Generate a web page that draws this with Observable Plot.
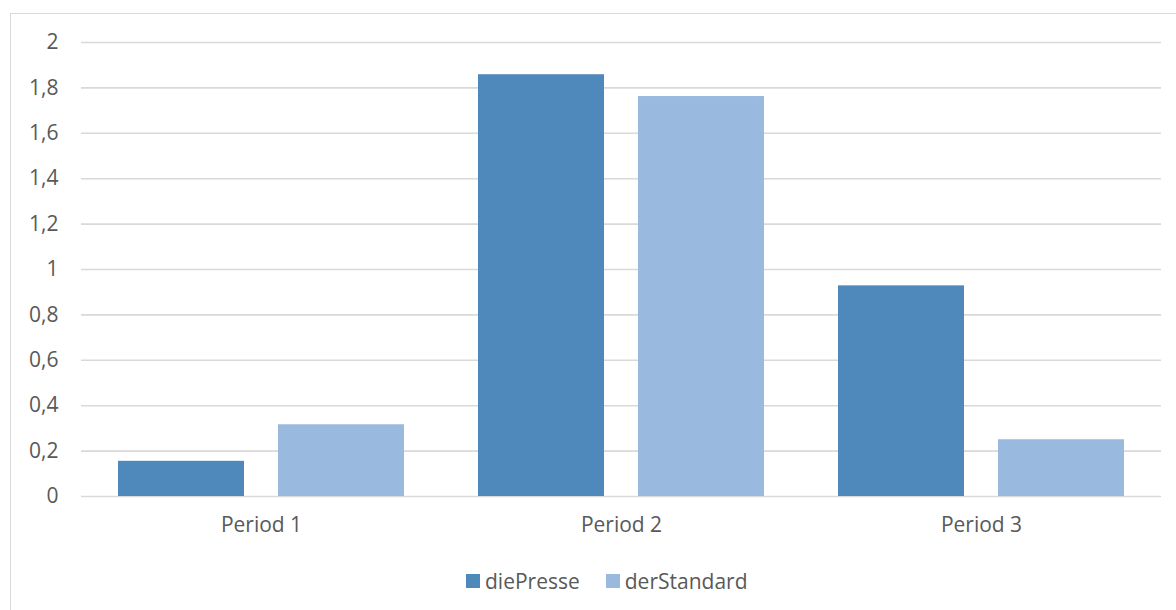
<!DOCTYPE html>
<html>
<head>
<meta charset="utf-8">
<script src="https://cdn.jsdelivr.net/npm/d3@7"></script>
<script src="https://cdn.jsdelivr.net/npm/@observablehq/plot@0.6"></script>
<style>
  html, body { margin: 0; padding: 0; background: #fff; width: 1176px; height: 610px; overflow: hidden; }
  #frame { position: absolute; left: 10px; top: 13px; width: 1170px; height: 610px; border: 1px solid #d9d9d9; box-sizing: border-box; }
  #chart { position: absolute; left: 0; top: 0; }
  #legend { position: absolute; left: 466px; top: 567px; display: flex; gap: 26px;
            font-family: "Open Sans", sans-serif; font-size: 21px; color: #595959; line-height: 28px; }
  .item { display: flex; align-items: center; gap: 5px; }
  .sw { width: 14px; height: 14px; display: inline-block; }
</style>
</head>
<body>
<div id="frame"></div>
<div id="chart"></div>
<div id="legend"></div>
<script>
const periods = ["Period 1", "Period 2", "Period 3"];
const seriesNames = ["diePresse", "derStandard"];
const diePresse = [0.155, 1.858, 0.928];
const derStandard = [0.316, 1.762, 0.25];
const colors = ["#4f88bb", "#99b9df"];
const yTicks = [0, 0.2, 0.4, 0.6, 0.8, 1, 1.2, 1.4, 1.6, 1.8, 2];

const data = [];
periods.forEach((p, i) => {
  data.push({period: p, series: seriesNames[0], value: diePresse[i]});
  data.push({period: p, series: seriesNames[1], value: derStandard[i]});
});

const fmt = v => String(v).replace(".", ",");

const plot = Plot.plot({
  width: 1176,
  height: 540,
  marginLeft: 80,
  marginRight: 15,
  marginTop: 42,
  marginBottom: 44,
  style: {fontFamily: "'Open Sans', sans-serif", fontSize: "21px", color: "#595959", background: "transparent"},
  fx: {domain: periods, paddingInner: 0, paddingOuter: 0, label: null, axis: null},
  x: {domain: seriesNames, paddingInner: 0.211, paddingOuter: 0.224, axis: null},
  y: {domain: [0, 2], ticks: yTicks, label: null, axis: null},
  color: {domain: seriesNames, range: colors},
  marks: [
    Plot.gridY(yTicks, {stroke: "#d9d9d9", strokeOpacity: 1, strokeWidth: 1.6}),
    Plot.barY(data, {fx: "period", x: "series", y: "value", fill: "series"}),
    Plot.axisY(yTicks, {tickSize: 0, tickPadding: 23, tickFormat: fmt, label: null, fill: "#595959", fontSize: 21}),
    Plot.axisFx({anchor: "bottom", tickSize: 0, tickPadding: 21, label: null, fill: "#595959", fontSize: 21})
  ]
});
document.getElementById("chart").appendChild(plot);

const legend = document.getElementById("legend");
seriesNames.forEach((s, i) => {
  const it = document.createElement("div");
  it.className = "item";
  it.innerHTML = `<span class="sw" style="background:${colors[i]}"></span><span>${s}</span>`;
  legend.appendChild(it);
});
</script>
</body>
</html>
